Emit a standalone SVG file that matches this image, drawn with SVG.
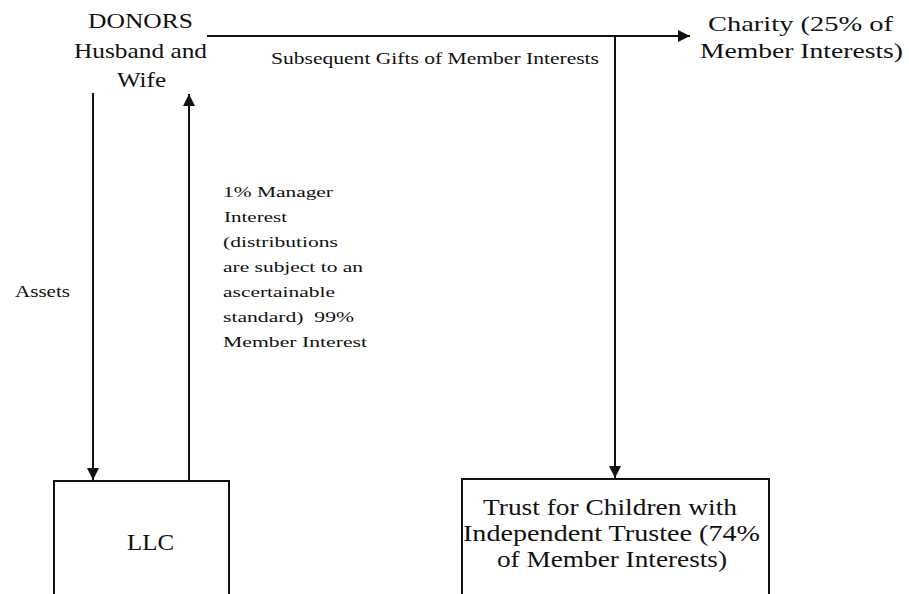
<svg xmlns="http://www.w3.org/2000/svg" width="909" height="594" viewBox="0 0 909 594">
<style>
text{fill:#111}
.sf{font-family:"Liberation Serif","Times New Roman","DejaVu Serif",serif}
.ln{stroke:#111;stroke-width:2;fill:none}
.box{stroke:#111;stroke-width:2;fill:#fff}
</style>
<defs>
<marker id="ah" viewBox="0 0 10 10" refX="10" refY="5" markerWidth="12" markerHeight="12" markerUnits="userSpaceOnUse" orient="auto">
<path d="M0,0 L10,5 L0,10 z" fill="#111"/>
</marker>
</defs>
<rect width="909" height="594" fill="#fff"/>
<g id="connectors">
<line class="ln" x1="207" y1="36" x2="690" y2="36" marker-end="url(#ah)"/>
<line class="ln" x1="615" y1="36" x2="615" y2="478" marker-end="url(#ah)"/>
<line class="ln" x1="93" y1="93" x2="93" y2="480" marker-end="url(#ah)"/>
<line class="ln" x1="189" y1="481" x2="189" y2="94" marker-end="url(#ah)"/>
<text class="sf" font-size="16" x="271" y="64" textLength="328" lengthAdjust="spacingAndGlyphs">Subsequent Gifts of Member Interests</text>
<text class="sf" font-size="16" x="15" y="297" textLength="55" lengthAdjust="spacingAndGlyphs">Assets</text>
<text class="sf" font-size="15.5" x="223" y="197" textLength="110" lengthAdjust="spacingAndGlyphs">1% Manager</text>
<text class="sf" font-size="15.5" x="224" y="222" textLength="63" lengthAdjust="spacingAndGlyphs">Interest</text>
<text class="sf" font-size="15.5" x="223" y="247" textLength="115" lengthAdjust="spacingAndGlyphs">(distributions</text>
<text class="sf" font-size="15.5" x="223" y="272" textLength="140" lengthAdjust="spacingAndGlyphs">are subject to an</text>
<text class="sf" font-size="15.5" x="223" y="297" textLength="112" lengthAdjust="spacingAndGlyphs">ascertainable</text>
<text class="sf" font-size="15.5" x="223" y="322" textLength="131" lengthAdjust="spacingAndGlyphs" xml:space="preserve">standard)  99%</text>
<text class="sf" font-size="15.5" x="223" y="347" textLength="144" lengthAdjust="spacingAndGlyphs">Member Interest</text>
</g>
<g id="donors">
<text class="sf" font-size="21.5" x="88" y="28" textLength="105" lengthAdjust="spacingAndGlyphs">DONORS</text>
<text class="sf" font-size="21.5" x="74" y="58" textLength="133" lengthAdjust="spacingAndGlyphs">Husband and</text>
<text class="sf" font-size="21.5" x="117" y="87" textLength="49" lengthAdjust="spacingAndGlyphs">Wife</text>
</g>
<g id="charity">
<text class="sf" font-size="22" x="708" y="31" textLength="185" lengthAdjust="spacingAndGlyphs">Charity (25% of</text>
<text class="sf" font-size="22" x="700" y="58" textLength="203" lengthAdjust="spacingAndGlyphs">Member Interests)</text>
</g>
<g id="llc">
<rect class="box" x="54" y="481" width="175" height="130"/>
<text class="sf" font-size="23" x="127" y="550" textLength="47" lengthAdjust="spacingAndGlyphs">LLC</text>
</g>
<g id="trust">
<rect class="box" x="462" y="479" width="307" height="130"/>
<text class="sf" font-size="23.5" x="483" y="515" textLength="254" lengthAdjust="spacingAndGlyphs">Trust for Children with</text>
<text class="sf" font-size="23.5" x="463" y="541" textLength="297" lengthAdjust="spacingAndGlyphs">Independent Trustee (74%</text>
<text class="sf" font-size="23.5" x="497" y="567" textLength="230" lengthAdjust="spacingAndGlyphs">of Member Interests)</text>
</g>
</svg>
